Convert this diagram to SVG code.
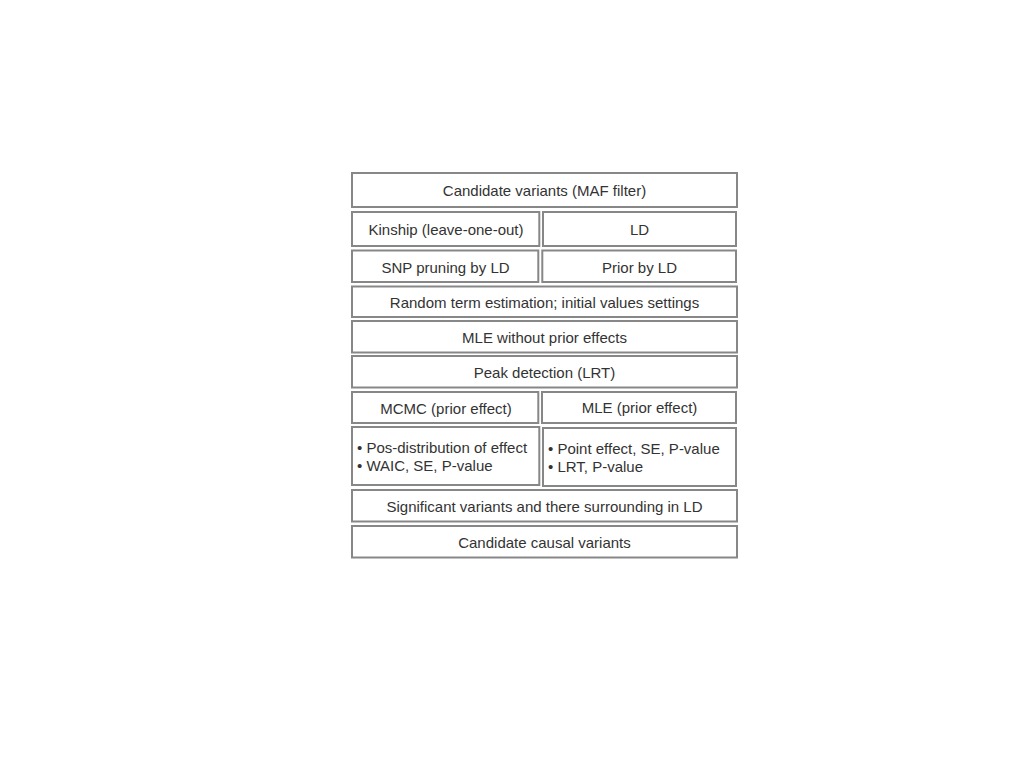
<svg xmlns="http://www.w3.org/2000/svg" width="1024" height="768" viewBox="0 0 1024 768">
<style>
.b{fill:#fff;stroke:#878787;stroke-width:2}
.t{font-family:"Liberation Sans",Arial,sans-serif;font-size:15px;fill:#333;text-anchor:middle;dominant-baseline:central}
.l{font-family:"Liberation Sans",Arial,sans-serif;font-size:15px;fill:#333;dominant-baseline:central}
</style>
<rect width="1024" height="768" fill="#fff"/>
<g id="n1"><rect class="b" x="352" y="173" width="385" height="34"/><text class="t" x="544.5" y="190">Candidate variants (MAF filter)</text></g>
<g id="n2"><rect class="b" x="352" y="212" width="187.3" height="34"/><text class="t" x="446" y="229.5">Kinship (leave-one-out)</text></g>
<g id="n3"><rect class="b" x="543" y="212" width="193" height="34"/><text class="t" x="639.5" y="229.5">LD</text></g>
<g id="n4"><rect class="b" x="352" y="250.5" width="186.3" height="31.5"/><text class="t" x="445.5" y="267">SNP pruning by LD</text></g>
<g id="n5"><rect class="b" x="542.3" y="250.5" width="193.7" height="31.5"/><text class="t" x="639.5" y="267.5">Prior by LD</text></g>
<g id="n6"><rect class="b" x="352" y="286.5" width="385" height="30.5"/><text class="t" x="544.5" y="302">Random term estimation; initial values settings</text></g>
<g id="n7"><rect class="b" x="352" y="321" width="385" height="31.5"/><text class="t" x="544.5" y="337">MLE without prior effects</text></g>
<g id="n8"><rect class="b" x="352" y="356" width="385" height="31.5"/><text class="t" x="544.5" y="372">Peak detection (LRT)</text></g>
<g id="n9"><rect class="b" x="352" y="392" width="186.3" height="31"/><text class="t" x="446" y="408">MCMC (prior effect)</text></g>
<g id="n10"><rect class="b" x="542" y="392" width="194" height="31"/><text class="t" x="639.5" y="407.5">MLE (prior effect)</text></g>
<g id="n11"><rect class="b" x="352" y="427" width="187.3" height="58"/><text class="l" x="357" y="447.5">• Pos-distribution of effect</text><text class="l" x="357" y="465.5">• WAIC, SE, P-value</text></g>
<g id="n12"><rect class="b" x="543" y="428" width="193" height="58"/><text class="l" x="548" y="448">• Point effect, SE, P-value</text><text class="l" x="548" y="466">• LRT, P-value</text></g>
<g id="n13"><rect class="b" x="352" y="490" width="385" height="31.5"/><text class="t" x="544.5" y="506">Significant variants and there surrounding in LD</text></g>
<g id="n14"><rect class="b" x="352" y="526" width="385" height="31.5"/><text class="t" x="544.5" y="542">Candidate causal variants</text></g>
<g id="connectors"></g>
</svg>
